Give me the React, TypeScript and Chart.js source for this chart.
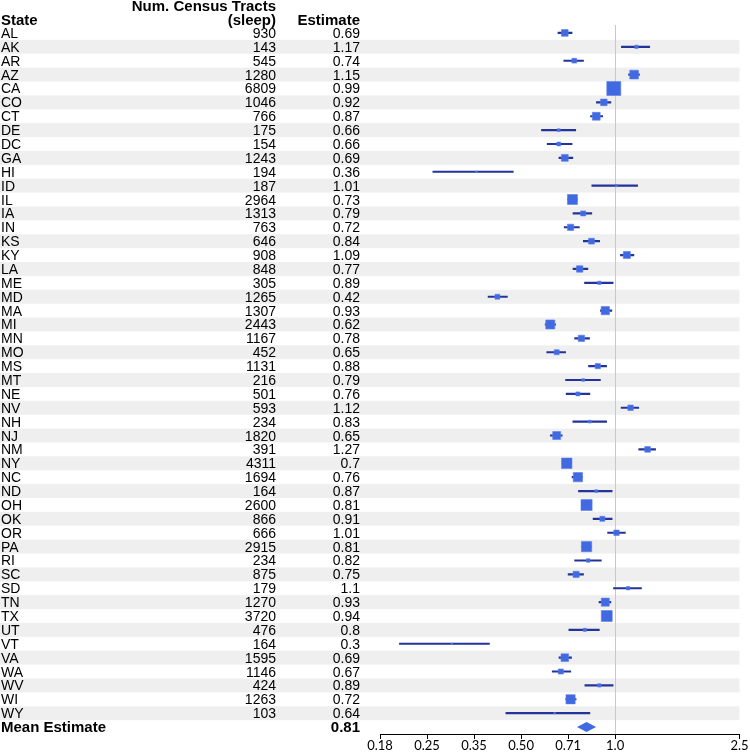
import React, { useEffect, useRef } from "react";
import { Chart, registerables } from "chart.js";

Chart.register(...registerables);

// Per-state rows
const states = [
  "AL", "AK", "AR", "AZ", "CA", "CO", "CT", "DE", "DC", "GA",
  "HI", "ID", "IL", "IA", "IN", "KS", "KY", "LA", "ME", "MD",
  "MA", "MI", "MN", "MO", "MS", "MT", "NE", "NV", "NH", "NJ",
  "NM", "NY", "NC", "ND", "OH", "OK", "OR", "PA", "RI", "SC",
  "SD", "TN", "TX", "UT", "VT", "VA", "WA", "WV", "WI", "WY",
];
const tracts = [
  930, 143, 545, 1280, 6809, 1046, 766, 175, 154, 1243,
  194, 187, 2964, 1313, 763, 646, 908, 848, 305, 1265,
  1307, 2443, 1167, 452, 1131, 216, 501, 593, 234, 1820,
  391, 4311, 1694, 164, 2600, 866, 666, 2915, 234, 875,
  179, 1270, 3720, 476, 164, 1595, 1146, 424, 1263, 103,
];
const estimates = [
  0.69, 1.17, 0.74, 1.15, 0.99, 0.92, 0.87, 0.66, 0.66, 0.69,
  0.36, 1.01, 0.73, 0.79, 0.72, 0.84, 1.09, 0.77, 0.89, 0.42,
  0.93, 0.62, 0.78, 0.65, 0.88, 0.79, 0.76, 1.12, 0.83, 0.65,
  1.27, 0.7, 0.76, 0.87, 0.81, 0.91, 1.01, 0.81, 0.82, 0.75,
  1.1, 0.93, 0.94, 0.8, 0.3, 0.69, 0.67, 0.89, 0.72, 0.64,
];
const lower = [
  0.656, 1.047, 0.685, 1.104, 0.966, 0.871, 0.834, 0.581, 0.606, 0.661,
  0.261, 0.842, 0.705, 0.733, 0.687, 0.791, 1.04, 0.733, 0.798, 0.392,
  0.897, 0.597, 0.742, 0.604, 0.822, 0.694, 0.697, 1.045, 0.732, 0.62,
  1.19, 0.677, 0.728, 0.763, 0.785, 0.85, 0.946, 0.783, 0.742, 0.707,
  0.988, 0.888, 0.91, 0.711, 0.204, 0.661, 0.629, 0.8, 0.695, 0.447,
];
const upper = [
  0.728, 1.29, 0.792, 1.196, 1.015, 0.969, 0.912, 0.748, 0.728, 0.732,
  0.472, 1.18, 0.756, 0.842, 0.768, 0.892, 1.148, 0.818, 0.985, 0.452,
  0.976, 0.645, 0.828, 0.694, 0.939, 0.897, 0.83, 1.19, 0.939, 0.677,
  1.347, 0.724, 0.785, 0.978, 0.836, 0.978, 1.078, 0.838, 0.903, 0.792,
  1.214, 0.969, 0.97, 0.89, 0.396, 0.725, 0.721, 0.985, 0.75, 0.83,
];

// Pooled estimate
const meanEstimate = 0.81;
const meanLower = 0.755;
const meanUpper = 0.869;

// x axis (log scale, steps of sqrt(2))
const tickValues = [0.1768, 0.25, 0.3536, 0.5, 0.7071, 1, 2.5];
const tickLabels = ["0.18", "0.25", "0.35", "0.50", "0.71", "1.0", "2.5"];

const TEXT_FONT = "Liberation Sans, Arial, sans-serif";
const COL_TRACTS_RIGHT = 276;
const COL_EST_RIGHT = 360;

// Box side grows with precision (1 / width of the log interval)
function boxSide(lo: number, hi: number): number {
  const s = 0.7 / Math.log(hi / lo);
  return Math.max(1.5, Math.min(14, s));
}

const forestPlugin = {
  id: "forest",
  beforeDraw(chart: any) {
    const { ctx, chartArea, scales } = chart;
    const y = scales.y;
    ctx.save();
    ctx.fillStyle = "#ffffff";
    ctx.fillRect(0, 0, chart.width, chart.height);
    ctx.fillStyle = "#efefef";
    for (let i = 0; i < states.length; i++) {
      if (i % 2 === 1) {
        const top = y.getPixelForValue(i - 0.5);
        const bot = y.getPixelForValue(i + 0.5);
        ctx.fillRect(0, top, chartArea.right, bot - top);
      }
    }
    ctx.restore();
  },
  beforeDatasetsDraw(chart: any) {
    const { ctx, chartArea, scales } = chart;
    const px = Math.round(scales.x.getPixelForValue(1)) + 0.5;
    ctx.save();
    ctx.strokeStyle = "#c8c8c8";
    ctx.lineWidth = 1;
    ctx.beginPath();
    ctx.moveTo(px, chartArea.top - 1);
    ctx.lineTo(px, chartArea.bottom);
    ctx.stroke();
    ctx.restore();
  },
  afterDatasetsDraw(chart: any) {
    const { ctx, scales } = chart;
    const x = scales.x;
    const yc = scales.y.getPixelForValue(states.length);
    const xl = x.getPixelForValue(meanLower);
    const xm = x.getPixelForValue(meanEstimate);
    const xr = x.getPixelForValue(meanUpper);
    ctx.save();
    ctx.fillStyle = "#4169e1";
    ctx.beginPath();
    ctx.moveTo(xl, yc);
    ctx.lineTo(xm, yc - 5);
    ctx.lineTo(xr, yc);
    ctx.lineTo(xm, yc + 5);
    ctx.closePath();
    ctx.fill();
    ctx.restore();
  },
  afterDraw(chart: any) {
    const { ctx, scales } = chart;
    const y = scales.y;
    ctx.save();
    ctx.fillStyle = "#000000";

    // header
    ctx.font = `bold 15px ${TEXT_FONT}`;
    ctx.textBaseline = "alphabetic";
    ctx.textAlign = "left";
    ctx.fillText("State", 1, 25);
    ctx.textAlign = "right";
    ctx.fillText("Num. Census Tracts", COL_TRACTS_RIGHT, 11);
    ctx.fillText("(sleep)", COL_TRACTS_RIGHT, 25);
    ctx.fillText("Estimate", COL_EST_RIGHT, 25);

    // rows
    ctx.font = `14px ${TEXT_FONT}`;
    for (let i = 0; i < states.length; i++) {
      const yc = y.getPixelForValue(i) + 5;
      ctx.textAlign = "left";
      ctx.fillText(states[i], 1, yc);
      ctx.textAlign = "right";
      ctx.fillText(String(tracts[i]), COL_TRACTS_RIGHT, yc);
      ctx.fillText(String(estimates[i]), COL_EST_RIGHT, yc);
    }

    // pooled row
    const ym = y.getPixelForValue(states.length) + 5;
    ctx.font = `bold 15px ${TEXT_FONT}`;
    ctx.textAlign = "left";
    ctx.fillText("Mean Estimate", 1, ym);
    ctx.textAlign = "right";
    ctx.fillText(String(meanEstimate), COL_EST_RIGHT, ym);
    ctx.restore();
  },
};

export default function App() {
  const canvasRef = useRef<HTMLCanvasElement | null>(null);

  useEffect(() => {
    const canvas = canvasRef.current;
    if (!canvas) return;

    const ciData = states.map((_, i) => ({ x: [lower[i], upper[i]], y: i }));
    const pointData = states.map((_, i) => ({ x: estimates[i], y: i }));
    const radii = states.map((_, i) => boxSide(lower[i], upper[i]) / (2 * Math.SQRT1_2));

    const chart = new Chart(canvas, {
      type: "bar",
      data: {
        datasets: [
          {
            // confidence intervals, drawn underneath the boxes
            type: "bar",
            indexAxis: "y",
            order: 1,
            data: ciData as any,
            backgroundColor: "#24339a",
            borderWidth: 0,
            barThickness: 1.5,
            grouped: false,
          } as any,
          {
            // point estimates
            type: "scatter",
            order: 0,
            data: pointData,
            pointStyle: "rect",
            pointRadius: radii,
            pointBackgroundColor: "#4169e1",
            pointBorderColor: "#5a7fe8",
            pointBorderWidth: 0.6,
            showLine: false,
          } as any,
        ],
      },
      options: {
        indexAxis: "y",
        animation: false,
        responsive: false,
        events: [],
        layout: { padding: { left: 380, right: 7, top: 26, bottom: 0 } },
        plugins: {
          legend: { display: false },
          tooltip: { enabled: false },
        },
        scales: {
          x: {
            type: "logarithmic",
            offset: false,
            min: tickValues[0],
            max: tickValues[tickValues.length - 1],
            afterBuildTicks: (scale: any) => {
              scale.ticks = tickValues.map((v) => ({ value: v }));
            },
            ticks: {
              autoSkip: false,
              maxRotation: 0,
              padding: 0,
              color: "#000000",
              font: { family: "Lato, Open Sans, sans-serif", size: 13, lineHeight: 1 },
              callback: (_v: any, idx: number) => tickLabels[idx],
            },
            grid: {
              display: true,
              offset: false,
              drawOnChartArea: false,
              drawTicks: true,
              tickLength: 5,
              color: "#000000",
            },
            border: { display: true, color: "#000000", width: 1 },
          },
          y: {
            type: "linear",
            display: false,
            offset: false,
            grid: { offset: false },
            reverse: true,
            min: -0.5,
            max: states.length + 0.5,
          },
        },
      } as any,
      plugins: [forestPlugin],
    });

    return () => chart.destroy();
  }, []);

  return (
    <div style={{ position: "absolute", left: 0, top: 0, width: 750, height: 752 }}>
      <canvas ref={canvasRef} width={750} height={752} />
    </div>
  );
}
